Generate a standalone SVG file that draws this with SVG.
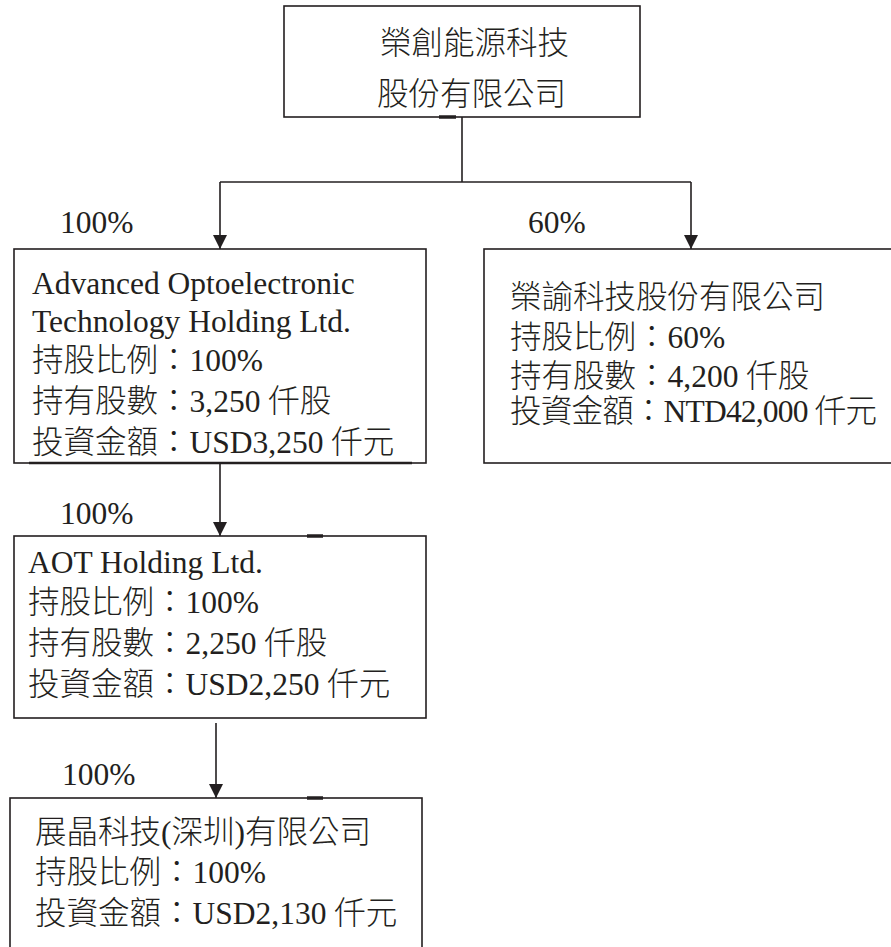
<svg xmlns="http://www.w3.org/2000/svg" width="891" height="947" viewBox="0 0 891 947">
<defs>
<style>
.box{fill:#fff;stroke:#231f20;stroke-width:1.6}
.tick{stroke:#231f20;stroke-width:3.5;fill:none}
.t{font-family:"Liberation Serif","Noto Sans CJK TC",serif;font-size:31.5px;font-weight:300;fill:#231f20}
.conn{fill:none;stroke:#231f20;stroke-width:1.6}
</style>
<marker id="arr" viewBox="0 0 14 14" refX="14" refY="7" markerWidth="14" markerHeight="14" markerUnits="userSpaceOnUse" orient="auto">
<path d="M0,0 L14,7 L0,14 z" fill="#231f20"/>
</marker>
</defs>
<rect width="891" height="947" fill="#fff"/>

<g id="parent">
<rect class="box" x="284" y="6" width="356" height="111"/>
<line class="tick" x1="439" y1="117" x2="456" y2="117"/>
<text class="t" x="380" y="54">榮創能源科技</text>
<text class="t" x="377" y="105">股份有限公司</text>
</g>

<g id="aoth">
<rect class="box" x="14" y="249" width="412" height="214"/>
<line class="tick" x1="29" y1="463" x2="412" y2="463" style="stroke-width:2.6"/>
<text class="t" x="32" y="294">Advanced Optoelectronic</text>
<text class="t" x="32" y="332">Technology Holding Ltd.</text>
<text class="t" x="32" y="371">持股比例：100%</text>
<text class="t" x="32" y="412">持有股數：3,250 仟股</text>
<text class="t" x="32" y="453">投資金額：USD3,250 仟元</text>
</g>

<g id="rongyu">
<rect class="box" x="484" y="249" width="420" height="214"/>
<text class="t" x="510" y="308">榮諭科技股份有限公司</text>
<text class="t" x="510" y="348">持股比例：60%</text>
<text class="t" x="510" y="387">持有股數：4,200 仟股</text>
<text class="t" x="510" y="422" textLength="367" lengthAdjust="spacing">投資金額：NTD42,000 仟元</text>
</g>

<g id="aot">
<rect class="box" x="14" y="536" width="412" height="182"/>
<line class="tick" x1="307" y1="536" x2="323" y2="536"/>
<text class="t" x="28" y="573">AOT Holding Ltd.</text>
<text class="t" x="28" y="613">持股比例：100%</text>
<text class="t" x="28" y="654">持有股數：2,250 仟股</text>
<text class="t" x="28" y="695">投資金額：USD2,250 仟元</text>
</g>

<g id="zhanjing">
<rect class="box" x="10" y="798" width="412" height="200"/>
<line class="tick" x1="307" y1="798" x2="323" y2="798"/>
<text class="t" x="35" y="843">展晶科技(深圳)有限公司</text>
<text class="t" x="35" y="883">持股比例：100%</text>
<text class="t" x="35" y="924">投資金額：USD2,130 仟元</text>
</g>

<g id="connectors">
<path class="conn" d="M462 117 V182"/>
<path class="conn" d="M220 182 H691"/>
<path class="conn" d="M220 182 V249" marker-end="url(#arr)"/>
<path class="conn" d="M691 182 V249" marker-end="url(#arr)"/>
<path class="conn" d="M220 463 V536" marker-end="url(#arr)"/>
<path class="conn" d="M216 723 V798" marker-end="url(#arr)"/>
<text class="t" x="60" y="233">100%</text>
<text class="t" x="528" y="233">60%</text>
<text class="t" x="60" y="524">100%</text>
<text class="t" x="62" y="785">100%</text>
</g>
</svg>
